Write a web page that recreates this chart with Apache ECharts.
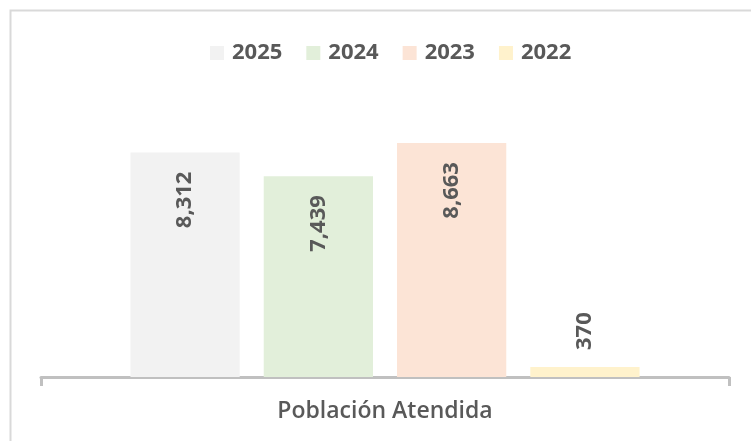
<!DOCTYPE html>
<html><head><meta charset="utf-8">
<script src="https://cdn.jsdelivr.net/npm/echarts@6/dist/echarts.min.js"></script>
<style>html,body{margin:0;padding:0;background:#fff}#c{width:751px;height:441px}</style>
</head><body><div id="c"></div>
<script>
const categories = ['Población Atendida'];
const seriesNames = ['2025', '2024', '2023', '2022'];
const values2025 = [8312];
const values2024 = [7439];
const values2023 = [8663];
const values2022 = [370];
const colors = ['#f2f2f2', '#e2efda', '#fce4d6', '#fff2cc'];
const textColor = '#595959';
const font = '"Open Sans", "Noto Sans", sans-serif';

const allValues = [values2025, values2024, values2023, values2022];
const insideLabel = {
  show: true, position: 'insideTop', rotate: 90, align: 'right', verticalAlign: 'middle',
  distance: 19, color: textColor, fontWeight: 'bold', fontSize: 22, fontFamily: font,
  formatter: p => p.value.toLocaleString('en-US')
};
const outsideLabel = Object.assign({}, insideLabel, { position: 'top', align: 'left', distance: 17 });

const chart = echarts.init(document.getElementById('c'), null, { renderer: 'canvas' });
chart.setOption({
  animation: false,
  backgroundColor: '#fff',
  graphic: [{ type: 'rect', left: 8, top: 8, shape: { width: 800, height: 500 },
    style: { fill: 'none', stroke: '#d9d9d9', lineWidth: 2 }, silent: true, z: -1 }],
  legend: {
    top: 37, left: 205, itemWidth: 14, itemHeight: 14, itemGap: 24, icon: 'rect',
    textStyle: { color: textColor, fontWeight: 'bold', fontSize: 22, fontFamily: font, padding: [0, 0, 0, 3] },
    data: seriesNames
  },
  grid: { left: 41, right: 22, top: 107, bottom: 64 },
  xAxis: {
    type: 'category', data: categories,
    axisLine: { lineStyle: { color: '#c0c0c0', width: 3 } },
    axisTick: { show: true, length: 9, lineStyle: { color: '#c0c0c0', width: 3 } },
    axisLabel: { color: textColor, fontSize: 23, fontWeight: 600, fontFamily: font, margin: 23 }
  },
  yAxis: { type: 'value', min: 0, max: 10000, show: false, splitLine: { show: false } },
  series: seriesNames.map((n, i) => ({
    name: n, type: 'bar', data: allValues[i],
    itemStyle: { color: colors[i] },
    barGap: '22%', barCategoryGap: '26%',
    label: allValues[i][0] < 1500 ? outsideLabel : insideLabel
  }))
});
</script></body></html>
